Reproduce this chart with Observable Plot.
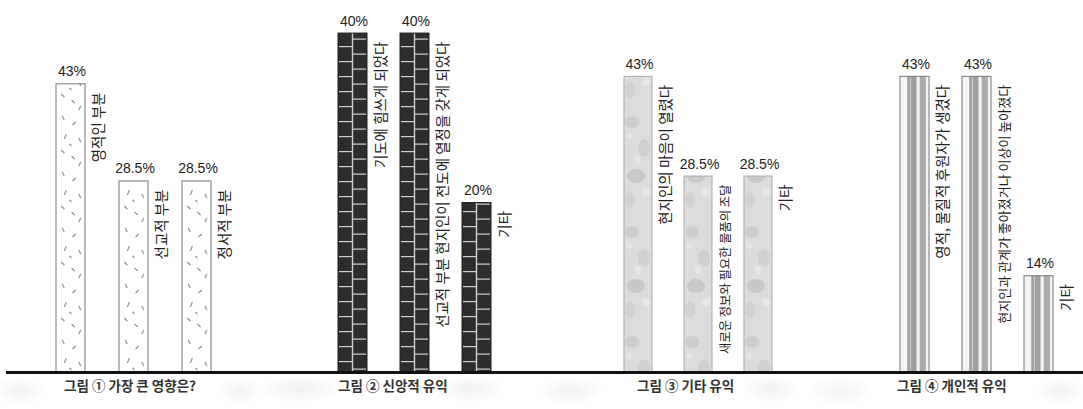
<!DOCTYPE html>
<html><head><meta charset="utf-8">
<script src="https://cdn.jsdelivr.net/npm/d3@7"></script>
<script src="https://cdn.jsdelivr.net/npm/@observablehq/plot@0.6"></script>
<style>
body{margin:0;background:#fff;}
#wrap{width:1083px;height:409px;display:flex;overflow:hidden;position:relative;}
#band{position:absolute;left:0;top:377px;width:1083px;height:32px;
  background:
    radial-gradient(ellipse 26px 14px at 20px 14px, #f1f1f1, rgba(255,255,255,0)),
    radial-gradient(ellipse 22px 14px at 240px 14px, #f2f2f2, rgba(255,255,255,0)),
    radial-gradient(ellipse 40px 14px at 300px 12px, #efefef, rgba(255,255,255,0)),
    radial-gradient(ellipse 34px 14px at 470px 12px, #f0f0f0, rgba(255,255,255,0)),
    radial-gradient(ellipse 34px 14px at 570px 14px, #f1f1f1, rgba(255,255,255,0)),
    radial-gradient(ellipse 28px 14px at 770px 12px, #f0f0f0, rgba(255,255,255,0)),
    radial-gradient(ellipse 34px 14px at 840px 14px, #f2f2f2, rgba(255,255,255,0)),
    radial-gradient(ellipse 24px 14px at 1060px 14px, #f2f2f2, rgba(255,255,255,0));}
.panel{position:relative;z-index:1;}
.panel svg{overflow:visible;display:block;}
.cap{height:34px;line-height:30px;font:bold 13.5px "Noto Sans CJK KR";color:#333;white-space:nowrap;}
</style></head><body><div id="wrap"><div id="band"></div></div>
<script>
const captions = ["그림 ① 가장 큰 영향은?", "그림 ② 신앙적 유익", "그림 ③ 기타 유익", "그림 ④ 개인적 유익"];

const labels1 = ["영적인 부분", "선교적 부분", "정서적 부분"];
const values1 = [43, 28.5, 28.5];

const labels2 = ["기도에 힘쓰게 되었다", "선교적 부분 현지인이 전도에 열정을 갖게 되었다", "기타"];
const values2 = [40, 40, 20];

const labels3 = ["현지인의 마음이 열렸다", "새로운 정보와 필요한 물품의 조달", "기타"];
const values3 = [43, 28.5, 28.5];

const labels4 = ["영적, 물질적 후원자가 생겼다", "현지인과 관계가 좋아졌거나 이상이 높아졌다", "기타"];
const values4 = [43, 43, 14];

const panels = [
  {id:"p1", labels:labels1, values:values1, caption:captions[0], width:280, ml:37.75, mr:51.75, ymax:55.5, capPad:64, stroke:"#777", kind:"dash", labelSize:[14.5,14.5,14.5]},
  {id:"p2", labels:labels2, values:values2, caption:captions[1], width:280, ml:40.75, mr:51.75, ymax:43.9, capPad:58, stroke:"#222", kind:"brick", labelSize:[14.5,14.5,14.5]},
  {id:"p3", labels:labels3, values:values3, caption:captions[2], width:280, ml:48, mr:52, ymax:54.1, capPad:77, stroke:"#aaa", kind:"speckle", labelSize:[14.5,12.3,14.5]},
  {id:"p4", labels:labels4, values:values4, caption:captions[3], width:243, ml:43, mr:14, ymax:54.1, capPad:57, stroke:"#777", kind:"stripe", labelSize:[14.5,13,14.5]}
];

function addPattern(svg, cfg, x0, step, bw){
  const defs = svg.insert("defs", ":first-child");
  if (cfg.kind === "dash") {
    const p = defs.append("pattern").attr("id", cfg.id).attr("patternUnits","userSpaceOnUse")
      .attr("x", x0).attr("y", 0).attr("width", step).attr("height", 56);
    p.append("rect").attr("width", bw).attr("height", 56).attr("fill", "#fff");
    const dashes = [[6,4,8,8],[19,10,16,13],[10,22,8,27],[22,26,24,30],[5,38,8,41],[15,44,18,47],[24,50,22,54],[13,32,15,34]];
    dashes.forEach(d => p.append("line").attr("x1", d[0]*bw/28).attr("y1", d[1]).attr("x2", d[2]*bw/28).attr("y2", d[3])
      .attr("stroke", "#8a8a8a").attr("stroke-width", 1.1));
  } else if (cfg.kind === "brick") {
    const h = 15;
    const p = defs.append("pattern").attr("id", cfg.id).attr("patternUnits","userSpaceOnUse")
      .attr("x", x0).attr("y", 0).attr("width", step).attr("height", h);
    p.append("rect").attr("width", bw).attr("height", h).attr("fill", "#2d2d2d");
    p.append("rect").attr("x", bw/2 - 0.7).attr("width", 1.4).attr("height", h).attr("fill", "#cfcfcf");
    p.append("rect").attr("x", 1).attr("y", 1).attr("width", bw/2 - 1).attr("height", 1.2).attr("fill", "#cfcfcf");
    p.append("rect").attr("x", bw/2).attr("y", 8.5).attr("width", bw/2 - 1).attr("height", 1.2).attr("fill", "#cfcfcf");
  } else if (cfg.kind === "speckle") {
    const p = defs.append("pattern").attr("id", cfg.id).attr("patternUnits","userSpaceOnUse")
      .attr("x", x0).attr("y", 0).attr("width", step).attr("height", 110);
    p.append("rect").attr("width", bw).attr("height", 110).attr("fill", "#dcdcdc");
    const blots = [[8,12,7,6,"#cdcdcd"],[20,38,6,9,"#d0d0d0"],[12,66,9,7,"#c8c8c8"],[6,90,5,8,"#d2d2d2"],[22,82,4,4,"#e6e6e6"],[14,50,3,4,"#e6e6e6"],[5,26,3,3,"#e4e4e4"]];
    blots.forEach(b => p.append("ellipse").attr("cx", b[0]*bw/28).attr("cy", b[1]).attr("rx", b[2]).attr("ry", b[3]).attr("fill", b[4]));
  } else {
    const p = defs.append("pattern").attr("id", cfg.id).attr("patternUnits","userSpaceOnUse")
      .attr("x", x0).attr("y", 0).attr("width", step).attr("height", 10);
    const s = bw/28;
    p.append("rect").attr("width", bw).attr("height", 10).attr("fill", "#f4f4f4");
    p.append("rect").attr("x", 7*s).attr("width", 9*s).attr("height", 10).attr("fill", "#a0a0a0");
    p.append("rect").attr("x", 9.5*s).attr("width", 1.2).attr("height", 10).attr("fill", "#cacaca");
    p.append("rect").attr("x", 19*s).attr("width", 6*s).attr("height", 10).attr("fill", "#ababab");
  }
}

const wrap = document.getElementById("wrap");
panels.forEach(cfg => {
  const data = cfg.labels.map((label, i) => ({i, label, value: cfg.values[i]}));
  const chart = Plot.plot({
    width: cfg.width, height: 375,
    marginTop: 0, marginBottom: 3, marginLeft: cfg.ml, marginRight: cfg.mr,
    x: {type: "band", domain: data.map(d => d.i), paddingInner: 0.54, paddingOuter: 0.27, axis: null},
    y: {domain: [0, cfg.ymax], axis: null},
    style: {background: "transparent", overflow: "visible"},
    marks: [
      Plot.barY(data, {x: "i", y: "value", fill: `url(#${cfg.id})`, stroke: cfg.stroke, strokeWidth: 1}),
      Plot.text(data, {x: "i", y: "value", text: d => d.value + "%", lineAnchor: "bottom", dy: -8, dx: 1,
        fontSize: 14, fill: "#222", fontFamily: "Liberation Sans"}),
      Plot.text(data, {x: "i", y: "value", text: "label", rotate: -90, textAnchor: "end", dx: 28, dy: 8,
        fontSize: d => cfg.labelSize[d.i], fill: "#222", fontFamily: "Noto Sans CJK KR"}),
      Plot.ruleY([0], {stroke: "#111", strokeWidth: 3, insetLeft: -cfg.ml + (cfg.id === "p1" ? 6 : 0), insetRight: -cfg.mr})
    ]
  });
  const svg = d3.select(chart);
  const rects = svg.selectAll("rect").nodes();
  const x0 = +rects[0].getAttribute("x");
  const x1 = +rects[1].getAttribute("x");
  const bw = +rects[0].getAttribute("width");
  addPattern(svg, cfg, x0, x1 - x0, bw);
  const div = document.createElement("div");
  div.className = "panel";
  div.style.width = cfg.width + "px";
  div.appendChild(chart);
  const cap = document.createElement("div");
  cap.className = "cap";
  cap.style.paddingLeft = cfg.capPad + "px";
  cap.textContent = cfg.caption;
  div.appendChild(cap);
  wrap.appendChild(div);
});
</script>
</body></html>
